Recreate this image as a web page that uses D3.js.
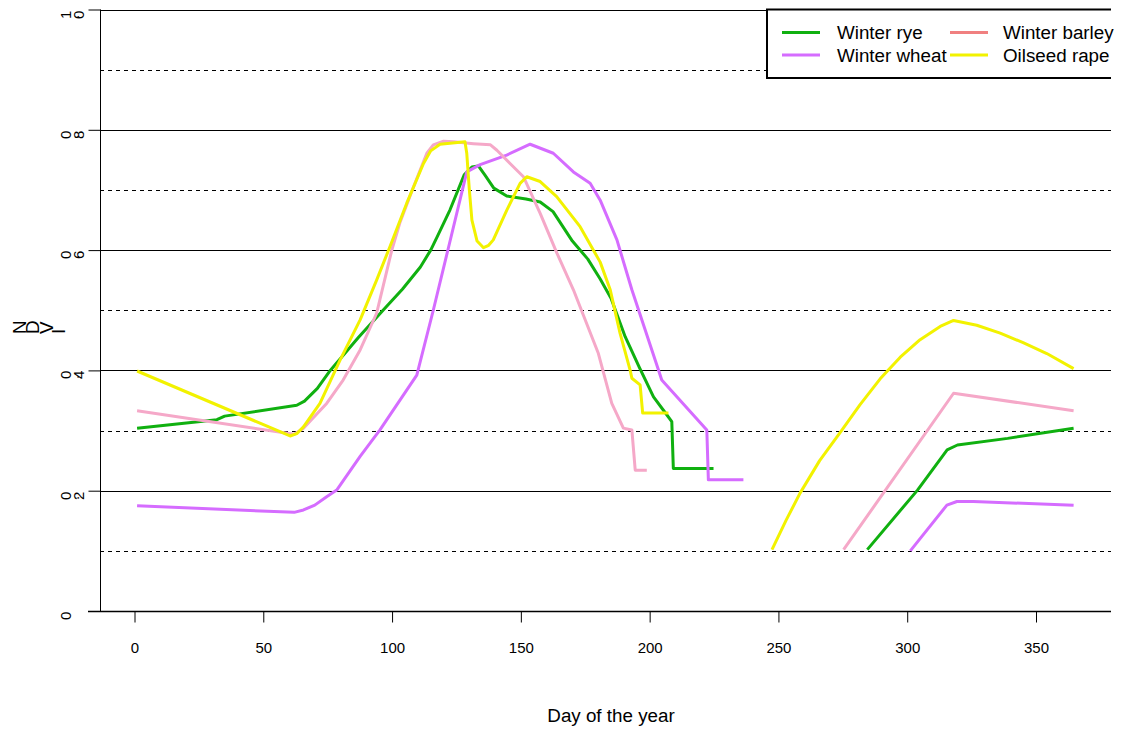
<!DOCTYPE html>
<html>
<head>
<meta charset="utf-8">
<script src="https://cdn.jsdelivr.net/npm/d3@7"></script>
<style>
  html, body { margin: 0; padding: 0; background: #ffffff; }
  svg { display: block; font-family: "Liberation Sans", Arial, sans-serif; }
</style>
</head>
<body>
<div id="chart"></div>
<script>
// values; null splits the two growing seasons
var ryeDay  = [1, 32, 35, 63, 66, 71, 76, 87, 96.5, 104, 111, 115, 117.5, 122.5, 128, 131, 133.5, 136, 139.5, 144.5, 152, 157.5, 162.5, 170, 176, 180.8, 185, 190.5, 196, 201.5, 206, 208.6, 209.2, 224.8,
               null, 284.5, 304, 315.5, 319.5, 339, 364.6];
var ryeNdvi = [0.304, 0.318, 0.324, 0.342, 0.349, 0.37, 0.40, 0.455, 0.50, 0.535, 0.572, 0.60, 0.622, 0.667, 0.725, 0.738, 0.74, 0.725, 0.703, 0.690, 0.685, 0.680, 0.664, 0.615, 0.585, 0.552, 0.52, 0.456, 0.405, 0.356, 0.33, 0.315, 0.237, 0.237,
               null, 0.102, 0.201, 0.268, 0.276, 0.287, 0.304];

var wheatDay  = [1, 62, 65.6, 70, 74.6, 78.5, 87.6, 95.3, 109.6, 116, 122, 129, 134.2, 144.5, 153.6, 162.6, 170.4, 176.9, 180.8, 187.3, 193.1, 203.4, 204.7, 222.2, 222.8, 236.4,
                 null, 301.2, 315.4, 319.3, 325.7, 364.6];
var wheatNdvi = [0.175, 0.164, 0.168, 0.176, 0.19, 0.201, 0.257, 0.301, 0.392, 0.50, 0.606, 0.730, 0.742, 0.758, 0.776, 0.761, 0.730, 0.711, 0.683, 0.617, 0.534, 0.401, 0.384, 0.301, 0.218, 0.218,
                 null, 0.100, 0.176, 0.182, 0.182, 0.176];

var barleyDay  = [1, 62, 65.6, 74.6, 81, 87.6, 94, 99.9, 103, 108.3, 113.5, 116, 120, 124, 131.6, 138.2, 140.7, 145.8, 151, 157.5, 164, 170.4, 180.1, 185.3, 189.8, 193.1, 194.4, 198.9,
                  null, 275.3, 318, 364.6];
var barleyNdvi = [0.333, 0.294, 0.304, 0.345, 0.384, 0.434, 0.495, 0.60, 0.645, 0.705, 0.761, 0.775, 0.781, 0.780, 0.777, 0.775, 0.766, 0.744, 0.722, 0.661, 0.595, 0.534, 0.428, 0.345, 0.304, 0.301, 0.234, 0.234,
                  null, 0.102, 0.362, 0.333];

var rapeDay  = [1, 60.4, 63, 65.6, 72, 79.8, 87.6, 94, 99.2, 105.7, 112.2, 115, 118.6, 128.3, 129, 130, 131, 133, 135.5, 137.5, 139.3, 144.5, 149.7, 152.3, 157.5, 163.9, 173, 180.8, 184.7, 188.5, 192.4, 193.1, 196.3, 197.3, 207.3,
                null, 247.5, 253, 258.4, 266, 274, 281.7, 289.5, 297.3, 305, 312.8, 318, 327, 336.1, 345, 354.2, 364.6];
var rapeNdvi = [0.399, 0.291, 0.295, 0.306, 0.345, 0.417, 0.484, 0.550, 0.606, 0.678, 0.744, 0.765, 0.776, 0.780, 0.761, 0.70, 0.650, 0.615, 0.604, 0.608, 0.617, 0.666, 0.711, 0.722, 0.714, 0.689, 0.639, 0.580, 0.534, 0.462, 0.401, 0.387, 0.376, 0.329, 0.329,
                null, 0.102, 0.151, 0.196, 0.250, 0.297, 0.343, 0.386, 0.422, 0.451, 0.473, 0.483, 0.475, 0.462, 0.446, 0.428, 0.403];

var xTicks = [0, 50, 100, 150, 200, 250, 300, 350];
var yTicks = [0, 0.2, 0.4, 0.6, 0.8, 1.0];
var yDashed = [0.1, 0.3, 0.5, 0.7, 0.9];

var series = [
    {name: "Winter rye",    day: ryeDay,    ndvi: ryeNdvi,    color: "#10b010", legendColor: "#10b010"},
    {name: "Winter wheat",  day: wheatDay,  ndvi: wheatNdvi,  color: "#d56cff", legendColor: "#d56cff"},
    {name: "Winter barley", day: barleyDay, ndvi: barleyNdvi, color: "#f5a8c8", legendColor: "#f08080"},
    {name: "Oilseed rape",  day: rapeDay,   ndvi: rapeNdvi,   color: "#f2f200", legendColor: "#f2f200"}
];

drawChart();

// each glyph turned on its own origin, laid out left to right (as in the source device)
function turnedText(g, str, x0, base, size) {
    var cx = x0;
    str.split("").forEach(function(c) {
        var t = g.append("text")
            .attr("x", cx).attr("y", base)
            .attr("transform", "rotate(-90," + cx + "," + base + ")")
            .style("font-size", size).attr("fill", "#000")
            .text(c);
        cx += t.node().getComputedTextLength();
    });
}

function drawChart() {
    var W = 1123, H = 735;
    var padLeft = 100, padRight = 1111, padTop = 9.5, padBottom = 611;

    var svg = d3.select("#chart").append("svg").attr("width", W).attr("height", H).style("background", "#ffffff");

    var x = d3.scaleLinear().domain([0, 350]).range([134.5, 1036]);
    var y = d3.scaleLinear().domain([0, 1]).range([padBottom, padTop]);

    var defs = svg.append("defs");
    defs.append("clipPath").attr("id", "plotclip").append("rect")
        .attr("x", padLeft).attr("y", 0).attr("width", padRight - padLeft).attr("height", padBottom + 1);
    defs.append("clipPath").attr("id", "figclip").append("rect")
        .attr("x", 0).attr("y", 0).attr("width", padRight).attr("height", H);

    // grid: solid at the labelled ticks, dashed in between
    svg.append("g").selectAll("line").data(yTicks).enter().append("line")
        .attr("x1", padLeft).attr("x2", padRight)
        .attr("y1", function(d) { return Math.round(y(d)) + 0.5; })
        .attr("y2", function(d) { return Math.round(y(d)) + 0.5; })
        .attr("stroke", "#000").attr("stroke-width", 1);
    svg.append("g").selectAll("line").data(yDashed).enter().append("line")
        .attr("x1", padLeft).attr("x2", padRight)
        .attr("y1", function(d) { return Math.round(y(d)) + 0.5; })
        .attr("y2", function(d) { return Math.round(y(d)) + 0.5; })
        .attr("stroke", "#000").attr("stroke-width", 1).attr("stroke-dasharray", "4,4");

    // curves
    var line = d3.line()
        .defined(function(d) { return d[0] !== null; })
        .x(function(d) { return x(d[0]); })
        .y(function(d) { return y(d[1]); });

    var curves = svg.append("g").attr("clip-path", "url(#plotclip)");
    series.forEach(function(s) {
        var pts = s.day.map(function(d, i) { return [d, s.ndvi[i]]; });
        curves.append("path")
            .attr("d", line(pts))
            .attr("fill", "none")
            .attr("stroke", s.color)
            .attr("stroke-width", 3)
            .attr("stroke-linejoin", "round");
    });

    // x axis
    var xAxis = svg.append("g").attr("transform", "translate(0," + (padBottom + 0.5) + ")")
        .call(d3.axisBottom(x).tickValues(xTicks).tickSize(11).tickSizeOuter(0).tickFormat(d3.format("d")));
    xAxis.attr("font-size", null).attr("font-family", null);
    xAxis.select(".domain").remove();
    xAxis.selectAll(".tick line").attr("stroke", "#000");
    xAxis.selectAll("text").style("font-size", "15px").attr("fill", "#000").attr("dy", 0).attr("y", 41.5);
    svg.append("line").attr("x1", 88).attr("x2", padRight).attr("y1", padBottom + 0.5).attr("y2", padBottom + 0.5)
        .attr("stroke", "#000").attr("stroke-width", 1.5);

    // y axis
    var yAxis = svg.append("g").attr("transform", "translate(" + (padLeft + 0.5) + ",0)")
        .call(d3.axisLeft(y).tickValues(yTicks).tickSize(12).tickSizeOuter(0).tickFormat(""));
    yAxis.select(".domain").attr("d", "M0," + padTop + "V" + (padBottom + 0.5)).attr("stroke", "#000");
    yAxis.selectAll(".tick line").attr("stroke", "#000");
    yAxis.selectAll(".tick text").remove();

    var yLabels = svg.append("g");
    yTicks.forEach(function(d) {
        turnedText(yLabels, d === 0 ? "0" : d3.format(".1f")(d), 71, Math.round(y(d)) + 9, "15px");
    });

    turnedText(svg.append("g"), "NDVI", 25.5, 334, "18.8px");

    svg.append("text").attr("x", 611).attr("y", 722).attr("text-anchor", "middle")
        .style("font-size", "18.8px").attr("fill", "#000").text("Day of the year");

    // legend (box runs off the right edge of the figure)
    var legend = svg.append("g");
    legend.append("rect").attr("x", 767).attr("y", 9.5).attr("width", 380).attr("height", 68.5)
        .attr("fill", "#fff").attr("stroke", "#000").attr("stroke-width", 2).attr("clip-path", "url(#figclip)");
    series.forEach(function(s, i) {
        var col = Math.floor(i / 2), row = i % 2;
        var lx = col === 0 ? 782 : 950;
        var tx = col === 0 ? 837 : 1003;
        var ly = row === 0 ? 32.5 : 55;
        legend.append("line").attr("x1", lx).attr("x2", lx + 38).attr("y1", ly).attr("y2", ly)
            .attr("stroke", s.legendColor).attr("stroke-width", 3);
        legend.append("text").attr("x", tx).attr("y", ly + 6.8)
            .style("font-size", "18.8px").attr("fill", "#000").text(s.name);
    });
}
</script>
</body>
</html>
